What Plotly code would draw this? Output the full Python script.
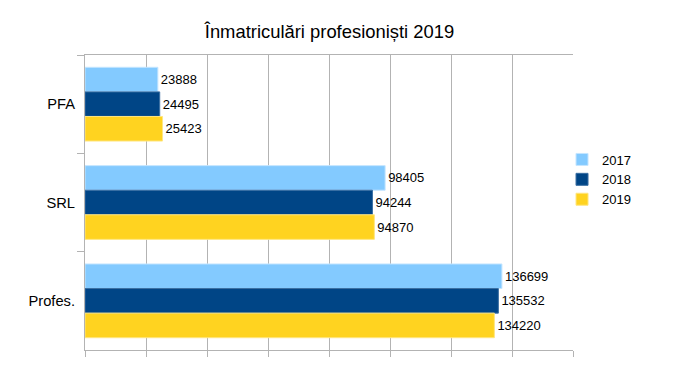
import plotly.graph_objects as go

categories = ["PFA", "SRL", "Profes."]
years = ["2017", "2018", "2019"]
v2017 = [23888, 98405, 136699]
v2018 = [24495, 94244, 135532]
v2019 = [25423, 94870, 134220]
series = [v2017, v2018, v2019]
colors = ["#83CAFF", "#004586", "#FFD320"]
edge = ["#C4E5FF", "#3A6FA3", "#FFE680"]

fig = go.Figure()
for name, vals, c, e in zip(years, series, colors, edge):
    fig.add_trace(go.Bar(
        y=categories, x=vals, name=name, orientation="h",
        marker=dict(color=c, line=dict(color=e, width=1)),
        text=[str(v) for v in vals], textposition="outside",
        textfont=dict(size=13, color="black"), cliponaxis=False,
    ))

# the page body adds an 8px offset; margins compensate for it
fig.update_layout(
    width=684, height=388,
    margin=dict(l=77, r=119, t=47, b=46),
    paper_bgcolor="white", plot_bgcolor="white",
    font=dict(family="Liberation Sans, Arial, sans-serif", size=13, color="black"),
    title=dict(text="Înmatriculări profesioniști 2019", x=(329.5 - 8) / 684, xanchor="center",
               y=1 - (32 - 8) / 388, yanchor="middle", font=dict(size=18.4)),
    barmode="group", bargap=0.25, bargroupgap=0,
    showlegend=True,
    legend=dict(x=0.9775, y=0.578, xanchor="left", yanchor="middle",
                font=dict(size=13), itemwidth=30, tracegroupgap=0),
)
fig.update_xaxes(range=[0, 160000], dtick=20000, showticklabels=False,
                 ticks="outside", ticklen=6, tickcolor="#b3b3b3",
                 showgrid=True, gridcolor="#b3b3b3", gridwidth=1,
                 showline=True, linecolor="#b3b3b3", mirror=True, zeroline=False)
fig.update_yaxes(autorange="reversed", tickson="boundaries", ticks="outside",
                 ticklen=7, tickcolor="#b3b3b3", showgrid=False,
                 showline=True, linecolor="#b3b3b3", ticklabelstandoff=6,
                 tickfont=dict(size=14.7))

fig.write_html("out.html")
